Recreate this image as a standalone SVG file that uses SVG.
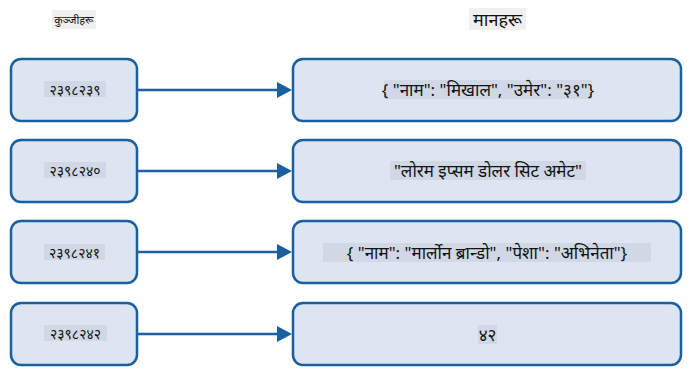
<svg xmlns="http://www.w3.org/2000/svg" width="698" height="382" viewBox="0 0 698 382">
<style>
.box{fill:#dde5f0;stroke:#1a5fa0;stroke-width:2.5}
.hl{fill:#cfd8e4}
.hh{fill:#f0f0f0}
.t{font-family:"Noto Sans","Noto Sans Devanagari","DejaVu Sans",sans-serif;fill:#111;text-anchor:middle;dominant-baseline:central}
.k{font-size:14px}
.v{font-size:17px}
.conn{stroke:#1a5fa0;stroke-width:2.5;fill:none}
</style>
<rect width="698" height="382" fill="#fff"/>
<g id="header-keys">
<rect class="hh" x="52" y="10" width="44" height="19"/>
<text class="t" x="74" y="19" font-size="11">कुञ्जीहरू</text>
</g>
<g id="header-values">
<rect class="hh" x="469" y="8" width="57" height="22"/>
<text class="t" x="497.5" y="18.5" font-size="18">मानहरू</text>
</g>
<g id="connectors">
<line class="conn" x1="137" y1="90" x2="277" y2="90"/>
<path d="M277,82 L292,90 L277,98 z" fill="#1a5fa0"/>
<line class="conn" x1="137" y1="171" x2="277" y2="171"/>
<path d="M277,163 L292,171 L277,179 z" fill="#1a5fa0"/>
<line class="conn" x1="137" y1="252" x2="277" y2="252"/>
<path d="M277,244 L292,252 L277,260 z" fill="#1a5fa0"/>
<line class="conn" x1="137" y1="334" x2="277" y2="334"/>
<path d="M277,326 L292,334 L277,342 z" fill="#1a5fa0"/>
</g>
<g id="key1">
<rect class="box" x="11" y="59" width="126" height="62" rx="10"/>
<rect class="hl" x="44" y="81" width="62" height="16"/>
<text class="t k" x="75" y="89.5">२३९८२३९</text>
</g>
<g id="key2">
<rect class="box" x="11" y="140" width="126" height="62" rx="10"/>
<rect class="hl" x="44" y="162" width="62" height="16"/>
<text class="t k" x="75" y="170.5">२३९८२४०</text>
</g>
<g id="key3">
<rect class="box" x="11" y="221" width="126" height="62" rx="10"/>
<rect class="hl" x="44" y="244" width="61" height="16"/>
<text class="t k" x="74.5" y="252">२३९८२४१</text>
</g>
<g id="key4">
<rect class="box" x="11" y="303" width="126" height="62" rx="10"/>
<rect class="hl" x="44" y="325" width="63" height="16"/>
<text class="t k" x="75.5" y="333.5">२३९८२४२</text>
</g>
<g id="value1">
<rect class="box" x="293" y="59" width="388" height="62" rx="10"/>
<rect class="hl" x="384" y="80" width="208" height="19"/>
<text class="t v" x="488" y="89.5">{ "नाम": "मिखाल", "उमेर": "३१"}</text>
</g>
<g id="value2">
<rect class="box" x="293" y="140" width="388" height="62" rx="10"/>
<rect class="hl" x="390" y="161" width="196" height="19"/>
<text class="t v" x="488" y="170.5">"लोरम इप्सम डोलर सिट अमेट"</text>
</g>
<g id="value3">
<rect class="box" x="293" y="221" width="388" height="62" rx="10"/>
<rect class="hl" x="323" y="243" width="328" height="19"/>
<text class="t v" x="487" y="252.5">{ "नाम": "मार्लोन ब्रान्डो", "पेशा": "अभिनेता"}</text>
</g>
<g id="value4">
<rect class="box" x="293" y="303" width="388" height="62" rx="10"/>
<rect class="hl" x="478" y="325" width="19" height="19"/>
<text class="t v" x="487.5" y="334">४२</text>
</g>
</svg>
